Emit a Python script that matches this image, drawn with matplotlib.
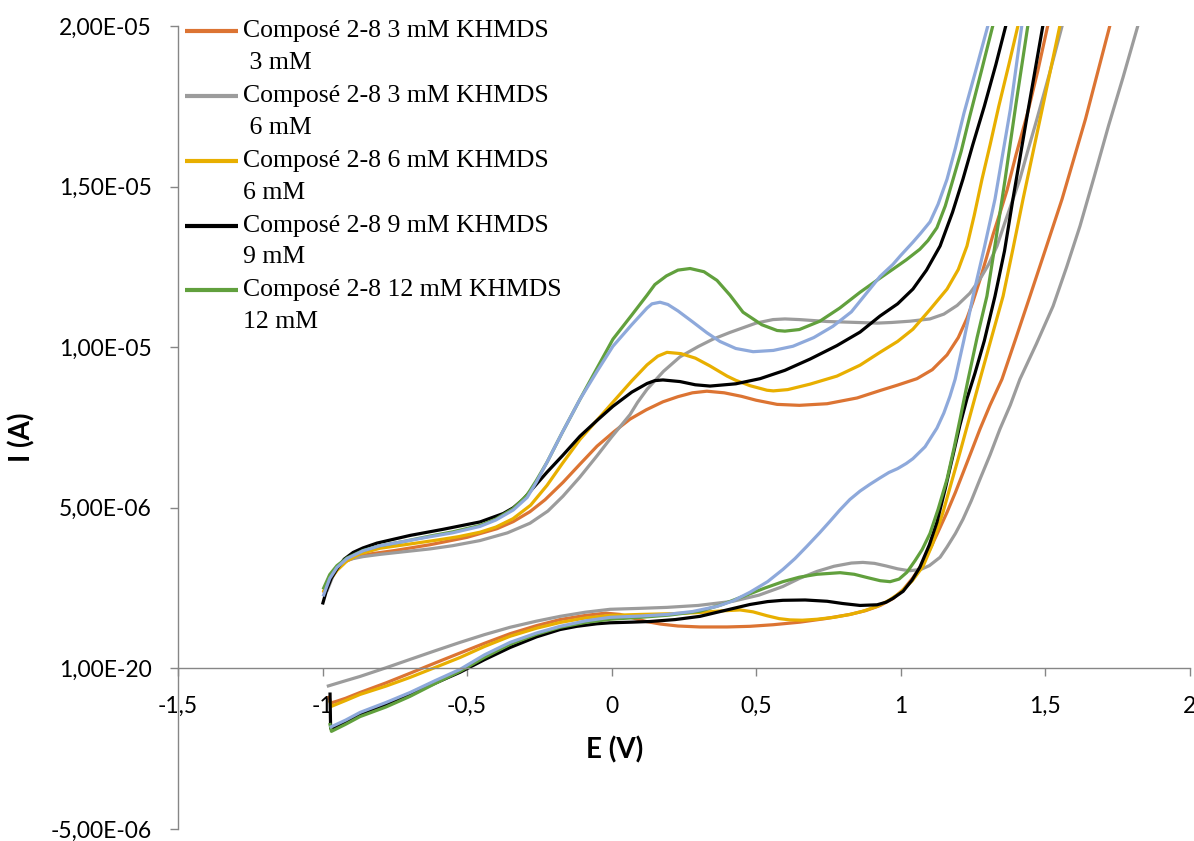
import matplotlib
matplotlib.use("Agg")
import matplotlib.pyplot as plt
import numpy as np

# ---------------- data (E in V, I in microampere) ----------------
# each series: forward (lower) branch from -1 V, then return (upper) branch back to -1 V
e_orange = [-0.978, -0.972, -0.95, -0.92, -0.87, -0.78, -0.697, -0.61, -0.524, -0.44,
            -0.351, -0.26, -0.178, -0.09, -0.02, 0.03, 0.074, 0.12, 0.17, 0.23,
            0.306, 0.40, 0.479, 0.56, 0.652, 0.74, 0.825, 0.88, 0.93, 0.975,
            1.01, 1.043, 1.075, 1.102, 1.13, 1.161, 1.19, 1.216, 1.245, 1.275,
            1.31, 1.351, 1.40, 1.448, 1.50, 1.559, 1.64, 1.725, 1.735,
            1.52, 1.51, 1.475, 1.44, 1.40, 1.369, 1.345, 1.32, 1.298, 1.275,
            1.25, 1.23, 1.20, 1.161, 1.11, 1.057, 0.99, 0.929, 0.85, 0.746,
            0.65, 0.573, 0.50, 0.45, 0.39, 0.330, 0.28, 0.23, 0.178, 0.120,
            0.064, 0.01, -0.05, -0.11, -0.168, -0.23, -0.282, -0.34, -0.396, -0.50,
            -0.628, -0.75, -0.83, -0.88, -0.92, -0.95, -0.975, -0.99, -0.996]
i_orange = [-0.85, -1.08, -1.02, -0.93, -0.75, -0.45, -0.15, 0.17, 0.48, 0.78,
            1.08, 1.33, 1.52, 1.65, 1.72, 1.68, 1.57, 1.46, 1.38, 1.32,
            1.29, 1.29, 1.31, 1.36, 1.44, 1.55, 1.68, 1.80, 1.96, 2.18,
            2.46, 2.82, 3.25, 3.71, 4.25, 4.86, 5.48, 6.08, 6.75, 7.45,
            8.20, 9.00, 10.30, 11.59, 13.00, 14.61, 17.10, 20.03, 20.30,
            20.30, 20.03, 18.60, 17.30, 16.00, 14.90, 14.20, 13.50, 12.80, 12.10,
            11.40, 10.90, 10.30, 9.76, 9.30, 9.02, 8.82, 8.65, 8.42, 8.24,
            8.19, 8.22, 8.35, 8.47, 8.58, 8.63, 8.58, 8.46, 8.30, 8.05,
            7.76, 7.38, 6.92, 6.35, 5.79, 5.25, 4.88, 4.57, 4.35, 4.08,
            3.85, 3.67, 3.57, 3.48, 3.33, 3.12, 2.85, 2.55, 2.35]

e_gray = [-0.985, -0.93, -0.870, -0.78, -0.697, -0.61, -0.524, -0.44, -0.351, -0.26,
          -0.178, -0.09, -0.005, 0.10, 0.192, 0.30, 0.42, 0.51, 0.593, 0.65,
          0.711, 0.77, 0.83, 0.87, 0.91, 0.95, 0.99, 1.03, 1.07, 1.10,
          1.137, 1.161, 1.19, 1.216, 1.245, 1.275, 1.31, 1.344, 1.38, 1.413,
          1.47, 1.528, 1.575, 1.621, 1.67, 1.72, 1.77, 1.822, 1.832,
          1.57, 1.56, 1.515, 1.472, 1.44, 1.413, 1.389, 1.36, 1.334, 1.305,
          1.275, 1.24, 1.196, 1.15, 1.102, 1.033, 0.97, 0.919, 0.85, 0.746,
          0.65, 0.60, 0.559, 0.50, 0.469, 0.41, 0.351, 0.30, 0.237, 0.18,
          0.123, 0.09, 0.064, 0.00, -0.050, -0.11, -0.168, -0.22, -0.282, -0.36,
          -0.455, -0.55, -0.628, -0.72, -0.801, -0.86, -0.915, -0.945, -0.965, -0.985]
i_gray = [-0.56, -0.41, -0.25, 0.02, 0.28, 0.55, 0.81, 1.05, 1.28, 1.47,
          1.62, 1.75, 1.84, 1.87, 1.90, 1.96, 2.09, 2.28, 2.55, 2.80,
          3.02, 3.18, 3.28, 3.30, 3.27, 3.19, 3.10, 3.04, 3.08, 3.20,
          3.46, 3.78, 4.20, 4.64, 5.22, 5.89, 6.65, 7.45, 8.20, 9.00,
          10.10, 11.28, 12.50, 13.77, 15.30, 16.90, 18.40, 20.03, 20.30,
          20.30, 20.03, 18.50, 17.10, 16.10, 15.23, 14.60, 13.85, 13.15, 12.58,
          12.12, 11.68, 11.30, 11.03, 10.88, 10.81, 10.77, 10.75, 10.77, 10.80,
          10.86, 10.88, 10.86, 10.75, 10.65, 10.46, 10.25, 10.02, 9.70, 9.25,
          8.69, 8.28, 7.90, 7.20, 6.62, 5.95, 5.36, 4.90, 4.52, 4.22,
          3.98, 3.82, 3.72, 3.63, 3.55, 3.48, 3.38, 3.15, 2.85, 2.40]

e_yellow = [-0.975, -0.969, -0.92, -0.870, -0.78, -0.697, -0.61, -0.524, -0.44, -0.351,
            -0.26, -0.178, -0.09, -0.005, 0.10, 0.20, 0.306, 0.38, 0.445, 0.49,
            0.538, 0.58, 0.618, 0.66, 0.711, 0.77, 0.825, 0.87, 0.919, 0.96,
            0.998, 1.04, 1.078, 1.11, 1.147, 1.175, 1.206, 1.24, 1.275, 1.315,
            1.355, 1.39, 1.424, 1.49, 1.552, 1.562,
            1.417, 1.407, 1.375, 1.34, 1.31, 1.282, 1.255, 1.23, 1.20, 1.161,
            1.10, 1.043, 0.99, 0.929, 0.860, 0.78, 0.687, 0.61, 0.56, 0.538,
            0.48, 0.43, 0.400, 0.34, 0.29, 0.24, 0.192, 0.16, 0.123, 0.07,
            0.005, -0.05, -0.109, -0.17, -0.223, -0.28, -0.341, -0.40, -0.455, -0.53,
            -0.60, -0.70, -0.801, -0.87, -0.915, -0.95, -0.975, -0.998]
i_yellow = [-1.00, -1.18, -1.00, -0.81, -0.55, -0.28, 0.03, 0.34, 0.68, 1.00,
            1.25, 1.43, 1.57, 1.65, 1.68, 1.70, 1.74, 1.79, 1.82, 1.76,
            1.64, 1.55, 1.51, 1.50, 1.53, 1.59, 1.68, 1.78, 1.93, 2.12,
            2.35, 2.72, 3.18, 3.85, 4.86, 5.75, 6.73, 7.85, 9.00, 10.30,
            11.59, 13.10, 14.61, 17.40, 20.03, 20.30,
            20.30, 20.03, 18.80, 17.50, 16.30, 15.23, 14.10, 13.15, 12.42, 11.81,
            11.15, 10.56, 10.18, 9.84, 9.44, 9.10, 8.85, 8.68, 8.64, 8.66,
            8.80, 8.97, 9.10, 9.42, 9.66, 9.80, 9.84, 9.72, 9.45, 8.95,
            8.29, 7.73, 7.13, 6.38, 5.70, 5.08, 4.66, 4.40, 4.24, 4.10,
            4.00, 3.87, 3.74, 3.57, 3.35, 3.05, 2.75, 2.37]

e_black = [-0.974, -0.972, -0.969, -0.92, -0.870, -0.78, -0.697, -0.61, -0.524, -0.44,
           -0.351, -0.26, -0.178, -0.120, -0.05, -0.005, 0.07, 0.133, 0.22, 0.306,
           0.39, 0.479, 0.54, 0.593, 0.67, 0.746, 0.80, 0.860, 0.919, 0.95,
           0.974, 1.009, 1.04, 1.067, 1.10, 1.126, 1.155, 1.182, 1.205, 1.230,
           1.258, 1.29, 1.327, 1.36, 1.389, 1.44, 1.493, 1.503,
           1.375, 1.365, 1.33, 1.29, 1.25, 1.216, 1.18, 1.137, 1.09, 1.043,
           0.99, 0.929, 0.860, 0.78, 0.687, 0.60, 0.514, 0.43, 0.341, 0.29,
           0.237, 0.178, 0.15, 0.123, 0.07, 0.005, -0.05, -0.109, -0.17, -0.223,
           -0.265, -0.306, -0.34, -0.375, -0.455, -0.583, -0.697, -0.812, -0.86, -0.894,
           -0.925, -0.950, -0.970, -0.985, -0.995, -1.000]
i_black = [-0.75, -1.85, -1.90, -1.67, -1.45, -1.12, -0.81, -0.46, -0.12, 0.27,
           0.65, 0.98, 1.21, 1.31, 1.39, 1.42, 1.44, 1.46, 1.52, 1.62,
           1.80, 1.99, 2.08, 2.12, 2.13, 2.09, 2.02, 1.96, 1.98, 2.06,
           2.18, 2.40, 2.75, 3.15, 3.85, 4.55, 5.60, 6.65, 7.55, 8.40,
           9.20, 10.20, 11.59, 13.00, 14.61, 17.30, 20.03, 20.30,
           20.30, 20.03, 18.80, 17.50, 16.30, 15.23, 14.20, 13.15, 12.40, 11.81,
           11.35, 10.97, 10.47, 10.05, 9.63, 9.28, 9.02, 8.86, 8.79, 8.83,
           8.93, 8.98, 8.96, 8.87, 8.60, 8.16, 7.72, 7.23, 6.62, 6.11,
           5.68, 5.26, 5.00, 4.82, 4.56, 4.33, 4.14, 3.90, 3.75, 3.61,
           3.40, 3.10, 2.80, 2.46, 2.15, 1.99]

e_green = [-0.975, -0.969, -0.92, -0.870, -0.78, -0.697, -0.61, -0.524, -0.44, -0.351,
           -0.26, -0.178, -0.09, -0.005, 0.10, 0.20, 0.306, 0.38, 0.455, 0.53,
           0.593, 0.65, 0.711, 0.791, 0.84, 0.884, 0.93, 0.964, 0.995, 1.022,
           1.05, 1.075, 1.102, 1.13, 1.161, 1.185, 1.206, 1.234, 1.265, 1.299,
           1.33, 1.362, 1.40, 1.441, 1.451,
           1.330, 1.320, 1.28, 1.24, 1.21, 1.182, 1.155, 1.126, 1.095, 1.067,
           1.02, 0.974, 0.929, 0.860, 0.79, 0.721, 0.65, 0.60, 0.573, 0.52,
           0.455, 0.41, 0.365, 0.32, 0.272, 0.23, 0.190, 0.15, 0.123, 0.07,
           0.005, -0.05, -0.109, -0.17, -0.223, -0.26, -0.292, -0.341, -0.40, -0.455,
           -0.55, -0.628, -0.72, -0.801, -0.86, -0.915, -0.95, -0.975, -0.998]
i_green = [-1.70, -1.96, -1.74, -1.50, -1.20, -0.87, -0.47, -0.09, 0.34, 0.75,
           1.06, 1.28, 1.43, 1.53, 1.59, 1.66, 1.78, 1.98, 2.24, 2.50,
           2.70, 2.84, 2.93, 2.98, 2.93, 2.83, 2.73, 2.70, 2.78, 2.99,
           3.35, 3.70, 4.20, 4.95, 5.89, 6.85, 7.76, 9.00, 10.30, 11.59,
           13.35, 15.23, 17.60, 20.03, 20.30,
           20.30, 20.03, 18.60, 17.20, 16.10, 15.23, 14.40, 13.72, 13.32, 13.05,
           12.72, 12.43, 12.15, 11.71, 11.22, 10.81, 10.55, 10.50, 10.52, 10.70,
           11.09, 11.62, 12.08, 12.35, 12.45, 12.40, 12.22, 11.95, 11.62, 11.00,
           10.25, 9.35, 8.38, 7.35, 6.42, 5.85, 5.40, 4.97, 4.65, 4.45,
           4.25, 4.12, 3.95, 3.82, 3.67, 3.44, 3.20, 2.92, 2.46]

e_blue = [-0.975, -0.92, -0.870, -0.78, -0.697, -0.61, -0.524, -0.44, -0.351, -0.26,
          -0.178, -0.09, -0.005, 0.10, 0.192, 0.28, 0.365, 0.42, 0.479, 0.54,
          0.593, 0.635, 0.676, 0.72, 0.756, 0.79, 0.825, 0.86, 0.894, 0.929,
          0.96, 0.990, 1.02, 1.043, 1.085, 1.126, 1.15, 1.171, 1.189, 1.22,
          1.251, 1.29, 1.327, 1.38, 1.420, 1.430,
          1.313, 1.303, 1.26, 1.22, 1.19, 1.161, 1.13, 1.102, 1.07, 1.043,
          1.00, 0.974, 0.929, 0.884, 0.83, 0.766, 0.70, 0.628, 0.56, 0.490,
          0.43, 0.375, 0.33, 0.282, 0.23, 0.195, 0.168, 0.14, 0.123, 0.07,
          0.005, -0.05, -0.109, -0.17, -0.223, -0.26, -0.292, -0.34, -0.40, -0.455,
          -0.55, -0.628, -0.72, -0.801, -0.86, -0.915, -0.95, -0.975, -0.998]
i_blue = [-1.84, -1.61, -1.37, -1.06, -0.75, -0.38, -0.03, 0.42, 0.81, 1.10,
          1.31, 1.48, 1.59, 1.63, 1.68, 1.77, 1.93, 2.10, 2.37, 2.70,
          3.08, 3.42, 3.80, 4.22, 4.58, 4.93, 5.26, 5.52, 5.73, 5.93,
          6.10, 6.22, 6.38, 6.53, 6.90, 7.48, 7.95, 8.47, 9.00, 10.25,
          11.59, 13.10, 14.61, 17.40, 20.03, 20.30,
          20.30, 20.03, 18.60, 17.30, 16.20, 15.23, 14.45, 13.90, 13.55, 13.27,
          12.85, 12.58, 12.20, 11.70, 11.10, 10.65, 10.30, 10.03, 9.90, 9.86,
          9.96, 10.18, 10.45, 10.78, 11.13, 11.33, 11.40, 11.35, 11.22, 10.70,
          10.03, 9.25, 8.38, 7.35, 6.42, 5.80, 5.32, 4.93, 4.62, 4.42,
          4.22, 4.10, 3.95, 3.82, 3.66, 3.42, 3.14, 2.80, 2.24]

series_labels = ["Composé 2-8 3 mM KHMDS\n 3 mM",
                 "Composé 2-8 3 mM KHMDS\n 6 mM",
                 "Composé 2-8 6 mM KHMDS\n6 mM",
                 "Composé 2-8 9 mM KHMDS\n9 mM",
                 "Composé 2-8 12 mM KHMDS\n12 mM",
                 None]
series_colors = ["#DC7433", "#9C9C9C", "#E8AF00", "#000000", "#61A03D", "#8EA9DB"]

x_ticks = [-1.5, -1.0, -0.5, 0.0, 0.5, 1.0, 1.5, 2.0]
x_tick_labels = ["-1,5", "-1", "-0,5", "0", "0,5", "1", "1,5", "2"]
y_ticks = [-5e-6, 0.0, 5e-6, 1e-5, 1.5e-5, 2e-5]
y_tick_labels = ["-5,00E-06", "1,00E-20", "5,00E-06", "1,00E-05", "1,50E-05", "2,00E-05"]
x_label = "E (V)"
y_label = "I (A)"

# ---------------- plotting ----------------
plt.rcParams['font.family'] = ['Lato', 'DejaVu Sans']
axis_gray = "#868686"

fig = plt.figure(figsize=(11.94, 8.41), dpi=100)
ax = fig.add_axes([178 / 1194, 12 / 841, 1011.5 / 1194, 803 / 841])

all_e = [e_orange, e_gray, e_yellow, e_black, e_green, e_blue]
all_i = [i_orange, i_gray, i_yellow, i_black, i_green, i_blue]
for e, i, c, lab in zip(all_e, all_i, series_colors, series_labels):
    ax.plot(e, np.asarray(i) * 1e-6, color=c, lw=2.3,
            label=lab if lab else "_nolegend_",
            solid_joinstyle="round", solid_capstyle="butt")

ax.set_xlim(-1.5, 2.0)
ax.set_ylim(-5e-6, 2e-5)

for s in ("top", "right"):
    ax.spines[s].set_visible(False)
ax.spines["bottom"].set_position(("data", 0))
for s in ("left", "bottom"):
    ax.spines[s].set_color(axis_gray)
    ax.spines[s].set_linewidth(1.0)

ax.set_xticks(x_ticks, x_tick_labels)
ax.set_yticks(y_ticks, y_tick_labels)
ax.tick_params(axis="x", direction="out", length=6, width=1, color=axis_gray,
               pad=14, labelsize=16.5, labelcolor="black")
ax.tick_params(axis="y", direction="out", length=6, width=1, color=axis_gray,
               pad=13, labelsize=16.5, labelcolor="black")

ax.set_xlabel(x_label, fontsize=20, fontweight="bold")
ax.xaxis.label.set_va("center")
ax.xaxis.set_label_coords((615 - 178) / 1011.5, (829 - 750) / 803)
ax.set_ylabel(y_label, fontsize=20, fontweight="bold")
ax.yaxis.label.set_va("center")
ax.yaxis.set_label_coords((22 - 178) / 1011.5, (829 - 437) / 803)

leg = ax.legend(loc="upper left", bbox_to_anchor=(0.0069, 1.007), frameon=False,
                prop={"family": "Liberation Serif", "size": 18.5},
                handlelength=2.07, handletextpad=0.2, borderpad=0.0,
                borderaxespad=0.0, labelspacing=0.43)
for t in leg.get_texts():
    t.set_linespacing(1.57)
for h in leg.legend_handles:
    h.set_linewidth(3.0)
    h.set_ydata(np.asarray(h.get_ydata()) + 11.0)

fig.savefig("out.png", dpi=100)
